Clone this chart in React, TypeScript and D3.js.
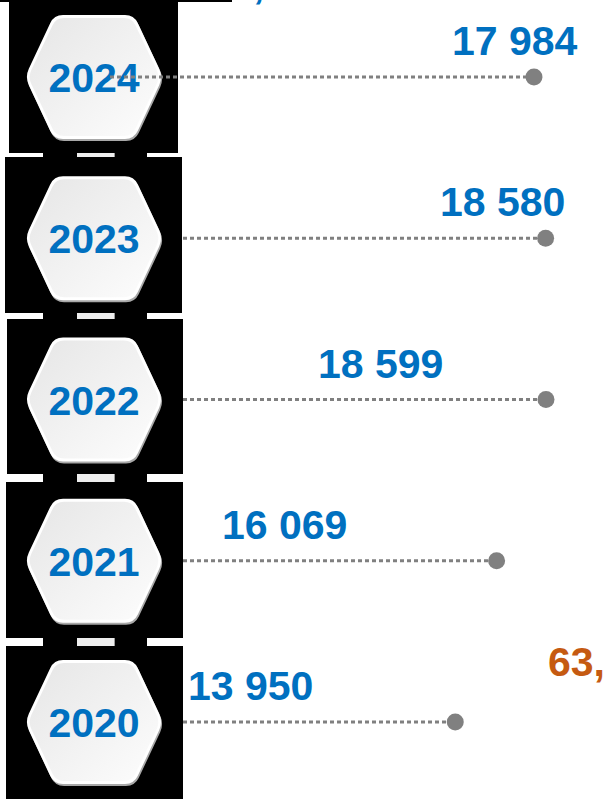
import React, { useEffect, useRef } from 'react';
import * as d3 from 'd3';

// data
const years = ["2024", "2023", "2022", "2021", "2020"];
const values = [17984, 18580, 18599, 16069, 13950];
const valueLabels = ["17 984", "18 580", "18 599", "16 069", "13 950"];
const totalLabel = "63,";

// layout (not data)
const labelX = [452, 440, 318, 222, 188];
const lineStartX = [110, 183, 183, 183, 183];
const blocks = [
    { x0: 9, x1: 178, y0: 2, y1: 153 },
    { x0: 5, x1: 182, y0: 157, y1: 313 },
    { x0: 7, x1: 183, y0: 319, y1: 474 },
    { x0: 6, x1: 183, y0: 482, y1: 638 },
    { x0: 6, x1: 183, y0: 646, y1: 799 },
];

const W = 608;
const H = 799;
const blue = "#0070c0";
const grey = "#808080";
const font = "'Liberation Sans', Arial, sans-serif";

// hexagon path with rounded corners
const hexPath = (cx: number, cy: number, hw: number, hh: number, tw: number, r: number) => {
    const pts: [number, number][] = [
        [cx - hw, cy], [cx - tw, cy - hh], [cx + tw, cy - hh],
        [cx + hw, cy], [cx + tw, cy + hh], [cx - tw, cy + hh],
    ];
    const p = d3.path();
    const n = pts.length;
    for (let i = 0; i < n; i++) {
        const prev = pts[(i + n - 1) % n];
        const cur = pts[i];
        const next = pts[(i + 1) % n];
        const d1 = Math.hypot(prev[0] - cur[0], prev[1] - cur[1]);
        const d2 = Math.hypot(next[0] - cur[0], next[1] - cur[1]);
        const a = [cur[0] + (prev[0] - cur[0]) * r / d1, cur[1] + (prev[1] - cur[1]) * r / d1];
        const b = [cur[0] + (next[0] - cur[0]) * r / d2, cur[1] + (next[1] - cur[1]) * r / d2];
        if (i === 0) p.moveTo(a[0], a[1]); else p.lineTo(a[0], a[1]);
        p.quadraticCurveTo(cur[0], cur[1], b[0], b[1]);
    }
    p.closePath();
    return p.toString();
};

export default function App() {
    const svgRef = useRef<SVGSVGElement | null>(null);

    useEffect(() => {
        if (!svgRef.current) return;
        const svg = d3.select(svgRef.current);
        svg.selectAll("*").remove();

        const defs = svg.append("defs");
        const grad = defs.append("linearGradient")
            .attr("id", "hexFill")
            .attr("x1", 0).attr("y1", 0).attr("x2", 1).attr("y2", 1);
        grad.append("stop").attr("offset", "0%").attr("stop-color", "#e6e6e6");
        grad.append("stop").attr("offset", "100%").attr("stop-color", "#fdfdfd");

        // row positions
        const y = d3.scalePoint<string>().domain(years).range([77, 722]);
        // value scale
        const x = d3.scaleLinear().domain([0, 18600]).range([183, 546]);

        svg.append("rect").attr("width", W).attr("height", H).attr("fill", "#fff");

        // black top line
        svg.append("rect").attr("x", 0).attr("y", 0).attr("width", 232).attr("height", 2).attr("fill", "#000");

        // black blocks
        svg.selectAll(".block")
            .data(blocks)
            .join("rect")
            .attr("class", "block")
            .attr("x", d => d.x0)
            .attr("y", d => d.y0)
            .attr("width", d => d.x1 - d.x0)
            .attr("height", d => d.y1 - d.y0)
            .attr("fill", "#000");

        // gap connectors between blocks
        const gaps = blocks.slice(1).map((b, i) => ({ y0: blocks[i].y1, y1: b.y0 }));
        gaps.forEach(g => {
            svg.append("rect").attr("x", 43).attr("y", g.y0).attr("width", 104).attr("height", g.y1 - g.y0).attr("fill", "#000");
            svg.append("rect").attr("x", 77).attr("y", g.y0).attr("width", 38).attr("height", g.y1 - g.y0).attr("fill", "#eeeeee");
            svg.append("rect").attr("x", 114).attr("y", g.y0).attr("width", 1).attr("height", g.y1 - g.y0).attr("fill", "#999");
        });

        // hexagons
        const hexes = svg.selectAll(".hex")
            .data(years)
            .join("g")
            .attr("class", "hex");

        hexes.append("path")
            .attr("d", d => hexPath(95, y(d)! + 2, 69, 62, 40, 9))
            .attr("fill", "#a8a8a8");
        hexes.append("path")
            .attr("d", d => hexPath(94, y(d)!, 69, 62, 40, 9))
            .attr("fill", "#ffffff");
        hexes.append("path")
            .attr("d", d => hexPath(94, y(d)!, 66, 59, 38, 8))
            .attr("fill", "url(#hexFill)");

        hexes.append("text")
            .attr("x", 94)
            .attr("y", d => y(d)! + 15)
            .attr("text-anchor", "middle")
            .style("font-family", font)
            .style("font-weight", "bold")
            .style("font-size", "41px")
            .attr("fill", blue)
            .text(d => d);

        // dotted leader lines
        svg.selectAll(".lead")
            .data(years)
            .join("line")
            .attr("class", "lead")
            .attr("x1", (d, i) => lineStartX[i])
            .attr("x2", (d, i) => x(values[i]))
            .attr("y1", d => y(d)!)
            .attr("y2", d => y(d)!)
            .attr("stroke", grey)
            .attr("stroke-width", 3)
            .attr("stroke-dasharray", "4 3");

        svg.selectAll(".dot")
            .data(years)
            .join("circle")
            .attr("class", "dot")
            .attr("cx", (d, i) => x(values[i]))
            .attr("cy", d => y(d)!)
            .attr("r", 8.5)
            .attr("fill", grey);

        // value labels
        svg.selectAll(".val")
            .data(years)
            .join("text")
            .attr("class", "val")
            .attr("x", (d, i) => labelX[i])
            .attr("y", d => y(d)! - 22)
            .style("font-family", font)
            .style("font-weight", "bold")
            .style("font-size", "41px")
            .attr("fill", blue)
            .text((d, i) => valueLabels[i]);

        // total (cut off at the edge)
        svg.append("text")
            .attr("x", 548)
            .attr("y", 676)
            .style("font-family", font)
            .style("font-weight", "bold")
            .style("font-size", "41px")
            .attr("fill", "#c55a11")
            .text(totalLabel);

        // tail of a title glyph cut off at the top
        svg.append("text")
            .attr("x", 253)
            .attr("y", -2)
            .style("font-family", font)
            .style("font-weight", "bold")
            .style("font-size", "41px")
            .attr("fill", blue)
            .text(",");
    }, []);

    return (
        <svg
            ref={svgRef}
            width={W}
            height={H}
            style={{ position: 'absolute', left: 0, top: 0, display: 'block' }}
        ></svg>
    );
}
